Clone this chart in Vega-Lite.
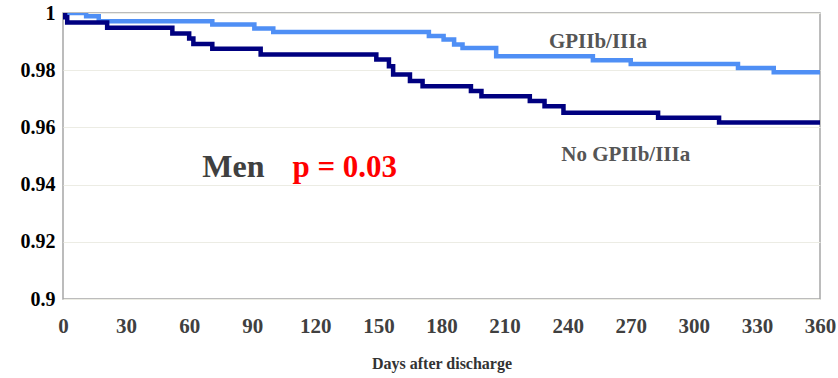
{
  "$schema": "https://vega.github.io/schema/vega-lite/v6.json",
  "width": 757,
  "height": 286,
  "autosize": {"type": "none"},
  "padding": {"left": 63, "top": 13, "right": 18, "bottom": 79},
  "background": "white",
  "config": {
    "view": {"stroke": "#a6a6a6", "strokeWidth": 1.5},
    "font": "Liberation Serif",
    "style": {
      "guide-label": {"font": "Liberation Serif", "fontWeight": "bold", "fontSize": 21},
      "guide-title": {"font": "Liberation Serif", "fontWeight": "bold", "fontSize": 16}
    },
    "axis": {
      "ticks": false,
      "domain": false,
      "labelFlush": false,
      "labelOverlap": false,
      "labelFont": "Liberation Serif",
      "labelFontSize": 21,
      "labelFontWeight": "bold",
      "titleFont": "Liberation Serif",
      "titleFontSize": 16,
      "titleFontWeight": "bold"
    },
    "axisX": {"grid": false, "labelColor": "#404040", "titleColor": "#333333"},
    "axisY": {"grid": true, "gridColor": "#ecece4", "gridWidth": 1, "labelColor": "#000000"}
  },
  "datasets": {
    "curves": [
      {"group": "GPIIb/IIIa", "day": 0, "surv": 1.0},
      {"group": "GPIIb/IIIa", "day": 11, "surv": 0.9989},
      {"group": "GPIIb/IIIa", "day": 17, "surv": 0.9971},
      {"group": "GPIIb/IIIa", "day": 71, "surv": 0.996},
      {"group": "GPIIb/IIIa", "day": 91, "surv": 0.9946},
      {"group": "GPIIb/IIIa", "day": 100, "surv": 0.9934},
      {"group": "GPIIb/IIIa", "day": 174, "surv": 0.992},
      {"group": "GPIIb/IIIa", "day": 181, "surv": 0.9907},
      {"group": "GPIIb/IIIa", "day": 186, "surv": 0.989},
      {"group": "GPIIb/IIIa", "day": 190, "surv": 0.9878},
      {"group": "GPIIb/IIIa", "day": 206, "surv": 0.9849},
      {"group": "GPIIb/IIIa", "day": 252, "surv": 0.9835},
      {"group": "GPIIb/IIIa", "day": 270, "surv": 0.9822},
      {"group": "GPIIb/IIIa", "day": 321, "surv": 0.9808},
      {"group": "GPIIb/IIIa", "day": 338, "surv": 0.9793},
      {"group": "GPIIb/IIIa", "day": 360, "surv": 0.9793},
      {"group": "No GPIIb/IIIa", "day": 0, "surv": 1.0},
      {"group": "No GPIIb/IIIa", "day": 1, "surv": 0.9985},
      {"group": "No GPIIb/IIIa", "day": 2, "surv": 0.9967},
      {"group": "No GPIIb/IIIa", "day": 21, "surv": 0.9948},
      {"group": "No GPIIb/IIIa", "day": 52, "surv": 0.9928},
      {"group": "No GPIIb/IIIa", "day": 60, "surv": 0.9911},
      {"group": "No GPIIb/IIIa", "day": 62, "surv": 0.9892},
      {"group": "No GPIIb/IIIa", "day": 71, "surv": 0.9875},
      {"group": "No GPIIb/IIIa", "day": 94, "surv": 0.9855},
      {"group": "No GPIIb/IIIa", "day": 149, "surv": 0.9837},
      {"group": "No GPIIb/IIIa", "day": 155, "surv": 0.9814},
      {"group": "No GPIIb/IIIa", "day": 157, "surv": 0.9785},
      {"group": "No GPIIb/IIIa", "day": 165, "surv": 0.9762},
      {"group": "No GPIIb/IIIa", "day": 171, "surv": 0.9744},
      {"group": "No GPIIb/IIIa", "day": 194, "surv": 0.9727},
      {"group": "No GPIIb/IIIa", "day": 199, "surv": 0.9709},
      {"group": "No GPIIb/IIIa", "day": 222, "surv": 0.9692},
      {"group": "No GPIIb/IIIa", "day": 229, "surv": 0.9674},
      {"group": "No GPIIb/IIIa", "day": 238, "surv": 0.9651},
      {"group": "No GPIIb/IIIa", "day": 283, "surv": 0.9634},
      {"group": "No GPIIb/IIIa", "day": 312, "surv": 0.9617},
      {"group": "No GPIIb/IIIa", "day": 360, "surv": 0.9617}
    ],
    "series": [
      {"day": 254.4, "surv": 0.9879, "text": "GPIIb/IIIa"},
      {"day": 267.6, "surv": 0.9481, "text": "No GPIIb/IIIa"}
    ],
    "men": [
      {"day": 81, "surv": 0.9428, "text": "Men"}
    ],
    "pval": [
      {"day": 134, "surv": 0.9428, "text": "p = 0.03"}
    ]
  },
  "layer": [
    {
      "data": {"name": "curves"},
      "mark": {"type": "line", "interpolate": "step-after", "strokeWidth": 4.5, "strokeCap": "butt", "strokeJoin": "miter", "clip": true},
      "encoding": {
        "x": {
          "field": "day", "type": "quantitative",
          "scale": {"domain": [0, 360], "nice": false, "zero": false},
          "axis": {
            "values": [0, 30, 60, 90, 120, 150, 180, 210, 240, 270, 300, 330, 360],
            "title": "Days after discharge",
            "labelFontSize": 21,
            "titleFontSize": 16,
            "labelPadding": 16,
            "titlePadding": 19
          }
        },
        "y": {
          "field": "surv", "type": "quantitative",
          "scale": {"domain": [0.9, 1.0], "nice": false, "zero": false},
          "axis": {
            "values": [0.9, 0.92, 0.94, 0.96, 0.98, 1.0],
            "format": ".2~f",
            "title": null,
            "labelFontSize": 20,
            "labelPadding": 8
          }
        },
        "color": {
          "field": "group", "type": "nominal",
          "scale": {"domain": ["GPIIb/IIIa", "No GPIIb/IIIa"], "range": ["#4f8ff5", "#000080"]},
          "legend": null
        }
      }
    },
    {
      "data": {"name": "series"},
      "mark": {"type": "text", "font": "Liberation Serif", "fontWeight": "bold", "fontSize": 21, "color": "#555555", "align": "center", "baseline": "alphabetic"},
      "encoding": {
        "x": {"field": "day", "type": "quantitative"},
        "y": {"field": "surv", "type": "quantitative"},
        "text": {"field": "text"}
      }
    },
    {
      "data": {"name": "men"},
      "mark": {"type": "text", "font": "Liberation Serif", "fontWeight": "bold", "fontSize": 32, "color": "#404040", "align": "center", "baseline": "alphabetic"},
      "encoding": {
        "x": {"field": "day", "type": "quantitative"},
        "y": {"field": "surv", "type": "quantitative"},
        "text": {"field": "text"}
      }
    },
    {
      "data": {"name": "pval"},
      "mark": {"type": "text", "font": "Liberation Serif", "fontWeight": "bold", "fontSize": 31, "color": "#ff0000", "align": "center", "baseline": "alphabetic"},
      "encoding": {
        "x": {"field": "day", "type": "quantitative"},
        "y": {"field": "surv", "type": "quantitative"},
        "text": {"field": "text"}
      }
    }
  ]
}
